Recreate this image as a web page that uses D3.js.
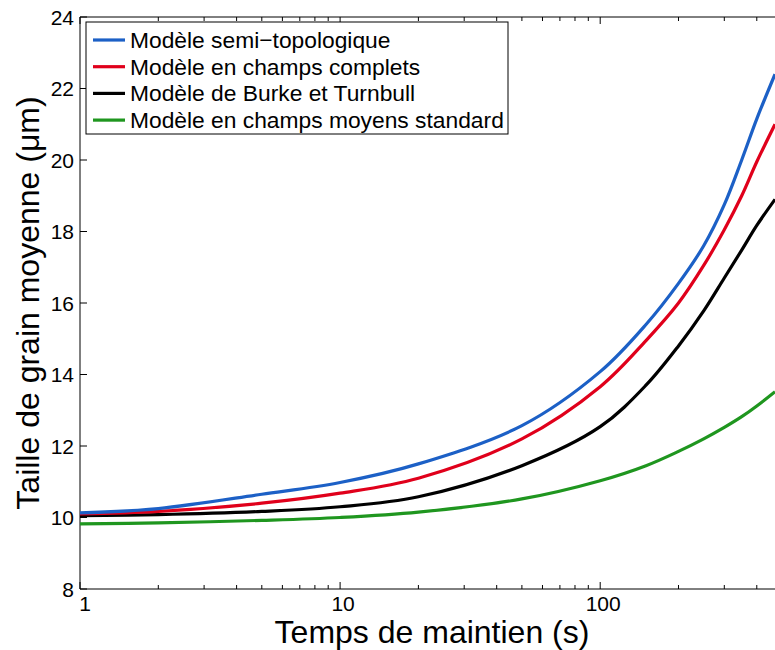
<!DOCTYPE html>
<html>
<head>
<meta charset="utf-8">
<script src="https://cdn.jsdelivr.net/npm/d3@7"></script>
<style>
  body { margin: 0; background: #fff; }
  svg { font-family: "Liberation Sans", Arial, sans-serif; }
</style>
</head>
<body>
<div id="app"></div>
<script>
// temps de maintien (s)
const temps = [1, 2, 5, 10, 20, 50, 100, 150, 200, 250, 300, 350, 400, 470];

const semiTopo   = [10.13, 10.25, 10.65, 10.98, 11.5, 12.57, 14.08, 15.4, 16.55, 17.6, 18.75, 20.0, 21.15, 22.4];
const champsComp = [10.10, 10.17, 10.40, 10.68, 11.10, 12.2, 13.66, 14.95, 16.0, 17.05, 18.05, 19.0, 19.95, 21.0];
const burke      = [10.05, 10.08, 10.17, 10.3, 10.58, 11.45, 12.54, 13.7, 14.8, 15.78, 16.7, 17.48, 18.17, 18.9];
const champsMoy  = [9.82, 9.85, 9.92, 10.0, 10.15, 10.52, 11.03, 11.45, 11.85, 12.2, 12.52, 12.82, 13.12, 13.52];

const series = [
  { name: "Modèle semi\u2212topologique", values: semiTopo, color: "#1c60c6" },
  { name: "Modèle en champs complets", values: champsComp, color: "#e0001b" },
  { name: "Modèle de Burke et Turnbull", values: burke, color: "#000000" },
  { name: "Modèle en champs moyens standard", values: champsMoy, color: "#1f961f" },
];

const xTicks = [1, 10, 100];
const yTicks = [8, 10, 12, 14, 16, 18, 20, 22, 24];

const chart = () => {
  const width = 775;
  const height = 650;
  const left = 80, top = 17, bottom = 589, right = 782;

  const svg = d3.create("svg").attr("width", width).attr("height", height);

  const x = d3.scaleLog().domain([1, 500]).range([left, right]);
  const y = d3.scaleLinear().domain([8, 24]).range([bottom, top]);

  // minor ticks on log axis
  const minor = [];
  for (const dec of [1, 10, 100]) {
    for (let k = 2; k <= 9; k++) if (dec * k <= 500) minor.push(dec * k);
  }

  const ax = svg.append("g").attr("stroke", "#000").attr("fill", "none");
  // frame
  ax.append("line").attr("x1", left).attr("x2", width).attr("y1", bottom).attr("y2", bottom);
  ax.append("line").attr("x1", left).attr("x2", width).attr("y1", top).attr("y2", top);
  ax.append("line").attr("x1", left).attr("x2", left).attr("y1", top).attr("y2", bottom);

  // x ticks (inward, bottom and top)
  for (const t of xTicks.concat(minor)) {
    const len = xTicks.includes(t) ? 7 : 4;
    ax.append("line").attr("x1", x(t)).attr("x2", x(t)).attr("y1", bottom).attr("y2", bottom - len);
    ax.append("line").attr("x1", x(t)).attr("x2", x(t)).attr("y1", top).attr("y2", top + len);
  }
  // y ticks
  for (const v of yTicks) {
    ax.append("line").attr("x1", left).attr("x2", left + 7).attr("y1", y(v)).attr("y2", y(v));
  }

  svg.append("g")
    .selectAll("text")
    .data(xTicks)
    .join("text")
    .attr("x", (d) => x(d) + (d === 1 ? 5 : 3))
    .attr("y", bottom + 22)
    .attr("text-anchor", "middle")
    .style("font-size", "21px")
    .text((d) => d);

  svg.append("g")
    .selectAll("text")
    .data(yTicks)
    .join("text")
    .attr("x", left - 6)
    .attr("y", (d) => y(d) + 7.5)
    .attr("text-anchor", "end")
    .style("font-size", "21px")
    .text((d) => d);

  // curves
  const line = d3.line()
    .x((d) => x(d[0]))
    .y((d) => y(d[1]))
    .curve(d3.curveCatmullRom.alpha(0.5));

  svg.append("defs").append("clipPath").attr("id", "clip")
    .append("rect").attr("x", left).attr("y", top).attr("width", right - left).attr("height", bottom - top);

  const plot = svg.append("g").attr("clip-path", "url(#clip)");
  for (const s of series.slice().reverse()) {
    plot.append("path")
      .datum(temps.map((t, i) => [t, s.values[i]]))
      .attr("fill", "none")
      .attr("stroke", s.color)
      .attr("stroke-width", 3.2)
      .attr("d", line);
  }

  // legend
  const lg = svg.append("g");
  lg.append("rect")
    .attr("x", 86).attr("y", 22).attr("width", 422).attr("height", 112)
    .attr("fill", "#fff").attr("stroke", "#000");
  series.forEach((s, i) => {
    const cy = 40 + i * 26.7;
    lg.append("line")
      .attr("x1", 93).attr("x2", 125).attr("y1", cy).attr("y2", cy)
      .attr("stroke", s.color).attr("stroke-width", 3.2);
    lg.append("text")
      .attr("x", 130).attr("y", cy + 8)
      .style("font-size", "22.8px")
      .text(s.name);
  });

  // axis titles
  svg.append("text")
    .text("Temps de maintien (s)")
    .attr("x", 432).attr("y", 643)
    .attr("text-anchor", "middle")
    .style("font-size", "32px");

  svg.append("text")
    .text("Taille de grain moyenne (\u03bcm)")
    .attr("transform", "translate(39,303) rotate(-90)")
    .attr("text-anchor", "middle")
    .style("font-size", "32px");

  return svg.node();
};

d3.select("#app").append(chart);
</script>
</body>
</html>
